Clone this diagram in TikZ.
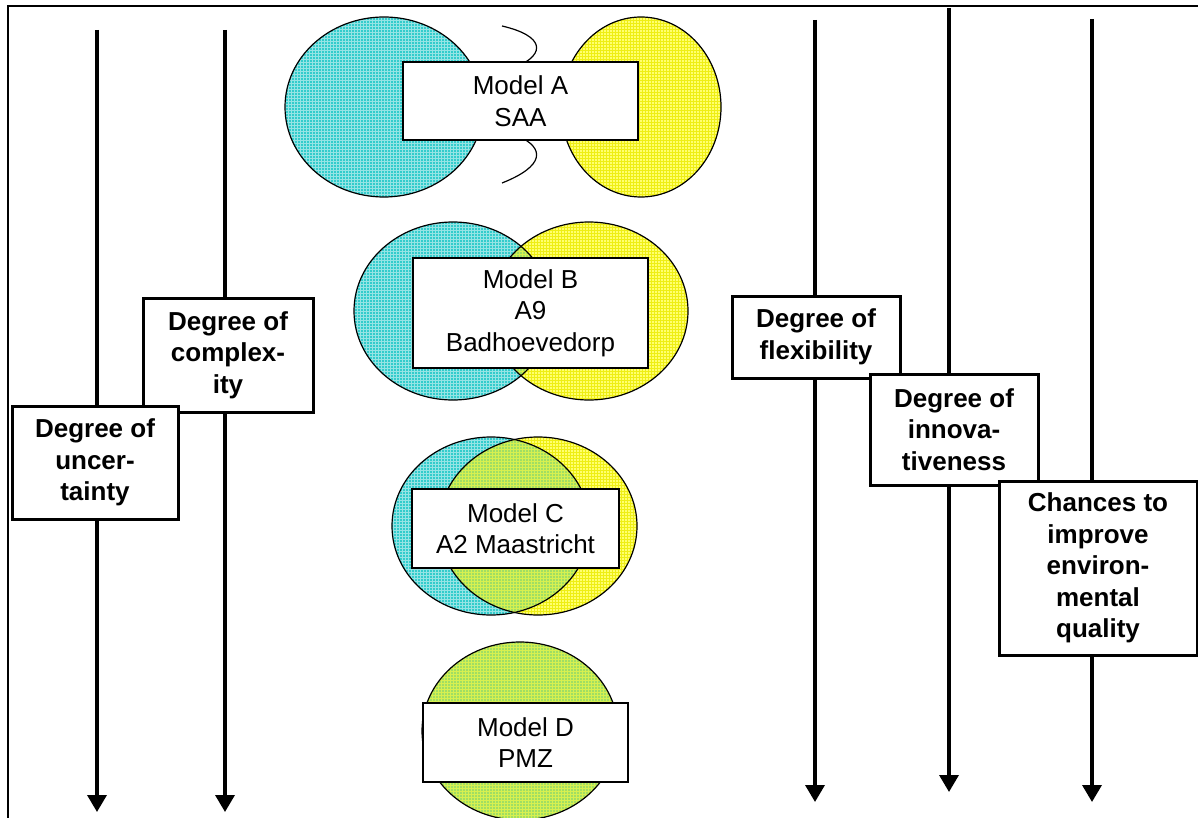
\documentclass[tikz,border=0pt]{standalone}
\usepackage{fontspec}
\setmainfont{Liberation Sans}
\usetikzlibrary{arrows.meta,patterns}

\definecolor{tealfill}{RGB}{51,204,204}
\definecolor{tealgrid}{RGB}{150,228,228}
\definecolor{lemonfill}{RGB}{255,255,110}
\definecolor{lemongrid}{RGB}{238,238,20}
\definecolor{limefill}{RGB}{160,222,100}
\definecolor{limegrid}{RGB}{215,240,80}

\begin{document}
\begin{tikzpicture}[x=1pt,y=-1pt,
  framebar/.style={line width=2.5pt},
  axisarrow/.style={line width=3.5pt,-{Triangle[width=19pt,length=17pt]}},
  factor/.style={draw,line width=3pt,fill=white,inner sep=0pt,align=center,
    font=\bfseries\fontsize{26}{31.5}\selectfont},
  modelbox/.style={draw,line width=1.3pt,fill=white,inner sep=0pt,align=center,
    font=\fontsize{26}{31.5}\selectfont},
  tealdisc/.style={fill=tealfill,postaction={pattern=grid,pattern color=tealgrid}},
  lemondisc/.style={fill=lemonfill,postaction={pattern=grid,pattern color=lemongrid}},
  limedisc/.style={fill=limefill,postaction={pattern=grid,pattern color=limegrid}},
  rim/.style={draw,line width=1.2pt},
  wave/.style={draw,line width=1.2pt}
]
\useasboundingbox (0,0) rectangle (1198,818);

% frame: top and left edges
\coordinate (fbl) at (8,818);
\coordinate (ftl) at (8,6);
\coordinate (ftr) at (1198,6);
\draw[framebar] (fbl) -- (ftl) -- (ftr);

% vertical axes
\coordinate (a1s) at (97,30);   \coordinate (a1e) at (97,812);
\coordinate (a2s) at (225,30);  \coordinate (a2e) at (225,812);
\coordinate (a3s) at (815,20);  \coordinate (a3e) at (815,802);
\coordinate (a4s) at (949,8);   \coordinate (a4e) at (949,792);
\coordinate (a5s) at (1092,19); \coordinate (a5e) at (1092,802);
\draw[axisarrow] (a1s) -- (a1e);
\draw[axisarrow] (a2s) -- (a2e);
\draw[axisarrow] (a3s) -- (a3e);
\draw[axisarrow] (a4s) -- (a4e);
\draw[axisarrow] (a5s) -- (a5e);

% Model A: two separate discs joined by a wavy gap
\path[tealdisc] (384,107) ellipse [x radius=99pt,y radius=90pt];
\path[lemondisc] (641,107) ellipse [x radius=80pt,y radius=90pt];
\draw[rim] (384,107) ellipse [x radius=99pt,y radius=90pt];
\draw[rim] (641,107) ellipse [x radius=80pt,y radius=90pt];
\draw[wave] (502,26) .. controls (545,36) and (545,54) .. (518,66);
\draw[wave] (518,136) .. controls (545,148) and (545,166) .. (502,183);
\node[modelbox,minimum width=235pt,minimum height=78pt] (ma) at (520.5,101) {Model A\\SAA};

% Model B: slight overlap
\path[tealdisc] (453,311) ellipse [x radius=99pt,y radius=89pt];
\path[lemondisc] (589,311) ellipse [x radius=99pt,y radius=89pt];
\begin{scope}
  \clip (453,311) ellipse [x radius=99pt,y radius=89pt];
  \path[limedisc] (589,311) ellipse [x radius=99pt,y radius=89pt];
\end{scope}
\draw[rim] (453,311) ellipse [x radius=99pt,y radius=89pt];
\draw[rim] (589,311) ellipse [x radius=99pt,y radius=89pt];
\node[modelbox,minimum width=235pt,minimum height=110pt] (mb) at (530.5,313) {Model B\\A9\\Badhoevedorp};

% Model C: large overlap
\path[tealdisc] (491,526) ellipse [x radius=99pt,y radius=89pt];
\path[lemondisc] (538,526) ellipse [x radius=99pt,y radius=89pt];
\begin{scope}
  \clip (491,526) ellipse [x radius=99pt,y radius=89pt];
  \path[limedisc] (538,526) ellipse [x radius=99pt,y radius=89pt];
\end{scope}
\draw[rim] (491,526) ellipse [x radius=99pt,y radius=89pt];
\draw[rim] (538,526) ellipse [x radius=99pt,y radius=89pt];
\node[modelbox,minimum width=207pt,minimum height=79pt] (mc) at (515.5,528.5) {Model C\\A2 Maastricht};

% Model D: a single merged disc
\path[limedisc] (520,731) ellipse [x radius=98pt,y radius=89pt];
\draw[rim] (520,731) ellipse [x radius=98pt,y radius=89pt];
\node[modelbox,minimum width=205pt,minimum height=79pt] (md) at (525.5,742.5) {Model D\\PMZ};

% factor labels on the axes
\node[factor,minimum width=170pt,minimum height=114pt] (cmp) at (228,355) {Degree of\\complex-\\ity};
\node[factor,minimum width=166pt,minimum height=113pt] (unc) at (95,462.5) {Degree of\\uncer-\\tainty};
\node[factor,minimum width=168pt,minimum height=82pt] (flx) at (816,337) {Degree of\\flexibility};
\node[factor,minimum width=168pt,minimum height=111pt] (inn) at (954,429.5) {Degree of\\innova-\\tiveness};
\node[factor,minimum width=198pt,minimum height=174pt] (env) at (1098,568) {Chances to\\improve\\environ-\\mental\\quality};
\end{tikzpicture}
\end{document}
